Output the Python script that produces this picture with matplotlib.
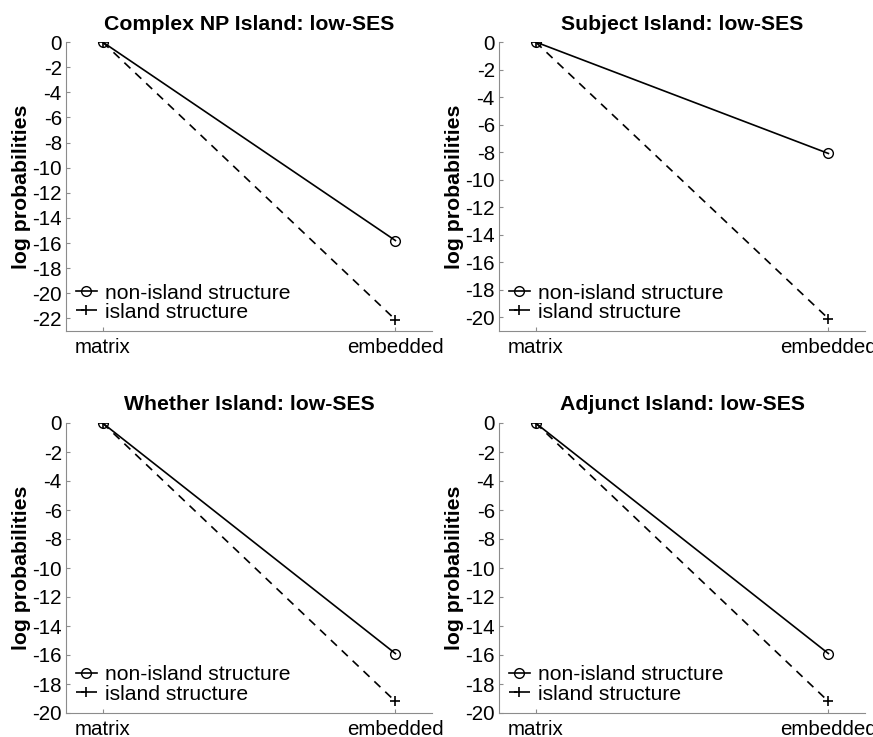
import numpy as np
import matplotlib
matplotlib.use("Agg")
import matplotlib.pyplot as plt

plt.rcParams['font.family'] = ['Liberation Sans', 'DejaVu Sans']

# data
conditions = ['matrix', 'embedded']
titles = ['Complex NP Island: low-SES', 'Subject Island: low-SES',
          'Whether Island: low-SES', 'Adjunct Island: low-SES']
non_island = [[0, -15.8], [0, -8.1], [0, -15.9], [0, -15.9]]
island = [[0, -22.1], [0, -20.1], [0, -19.2], [0, -19.2]]
y_bottoms = [-23, -21, -20, -20]
y_ticks = [np.arange(0, -23, -2), np.arange(0, -21, -2),
           np.arange(0, -21, -2), np.arange(0, -21, -2)]

W, H = 873, 737
fig = plt.figure(figsize=(W / 100, H / 100), dpi=100)

# axes boxes in pixels: left, top, right, bottom
boxes = [(66, 42, 432, 331), (499, 42, 865, 331),
         (66, 423, 432, 713), (499, 423, 865, 713)]

gray = '#8c8c8c'
for i in range(4):
    l, t, r, b = boxes[i]
    ax = fig.add_axes([l / W, 1 - b / H, (r - l) / W, (b - t) / H])
    x = np.arange(1, len(conditions) + 1)
    ax.plot(x, non_island[i], '-', color='black', lw=1.2, marker='o',
            markersize=7, markerfacecolor='none', markeredgewidth=1.0,
            label='non-island structure')
    ax.plot(x, island[i], '--', color='black', lw=1.2, marker='+',
            markersize=7, markeredgewidth=1.2, dashes=(5, 4),
            label='island structure')
    ax.set_xlim(0.875, 2.125)
    ax.set_ylim(y_bottoms[i], 0)
    ax.set_xticks(x)
    ax.set_xticklabels(conditions)
    ax.set_yticks(y_ticks[i])
    ax.set_yticklabels([str(v) for v in y_ticks[i]])
    for s in ['top', 'right']:
        ax.spines[s].set_visible(False)
    for s in ['left', 'bottom']:
        ax.spines[s].set_color(gray)
        ax.spines[s].set_linewidth(0.8)
    ax.tick_params(direction='in', length=3, width=0.8, color=gray,
                   labelsize=14.8)
    ax.tick_params(axis='y', pad=3)
    ax.tick_params(axis='x', pad=5)
    ax.set_title(titles[i], fontsize=15.3, fontweight='bold', pad=9)
    ax.set_ylabel('log probabilities', fontsize=15.3, fontweight='bold', labelpad=1)
    ax.legend(loc='lower left', frameon=False, fontsize=15.2, handlelength=1.0,
              handletextpad=0.4, labelspacing=0.0, borderaxespad=0.3,
              borderpad=0.15)

fig.savefig('out.png', dpi=100)
